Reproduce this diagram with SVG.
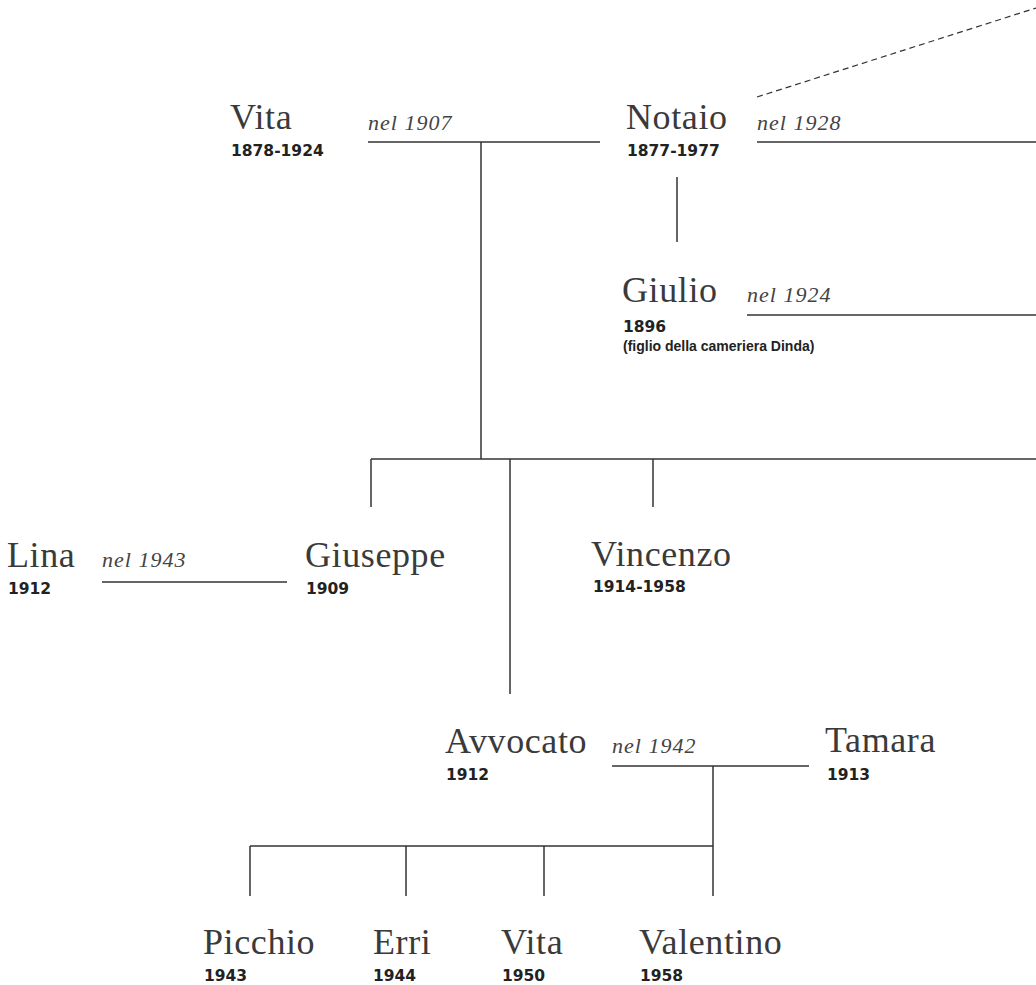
<svg xmlns="http://www.w3.org/2000/svg" width="1036" height="985" viewBox="0 0 1036 985">
<style>
.n{font-family:"Liberation Serif",serif;font-size:36px;letter-spacing:0.6px;fill:#3a3a3a}
.d{font-family:"DejaVu Sans",sans-serif;font-weight:bold;font-size:15.5px;fill:#222}
.f{font-family:"Liberation Sans",sans-serif;font-weight:bold;font-size:14px;fill:#222}
.m{font-family:"Liberation Serif",serif;font-style:italic;font-size:22px;letter-spacing:1px;fill:#444}
.c line{stroke:#333;stroke-width:1.5;fill:none}
.c .dash{stroke-dasharray:6 4;stroke-width:1.2}
</style>
<rect width="1036" height="985" fill="#fff"/>
<g class="c" id="connectors">
<line class="dash" x1="757" y1="97" x2="1036" y2="8"/>
<line x1="368" y1="142" x2="600" y2="142"/>
<line x1="481" y1="142" x2="481" y2="459"/>
<line x1="757" y1="142" x2="1036" y2="142"/>
<line x1="677" y1="177" x2="677" y2="242"/>
<line x1="747" y1="315" x2="1036" y2="315"/>
<line x1="371" y1="459" x2="1036" y2="459"/>
<line x1="371" y1="459" x2="371" y2="507"/>
<line x1="510" y1="459" x2="510" y2="694"/>
<line x1="653" y1="459" x2="653" y2="507"/>
<line x1="102" y1="582" x2="287" y2="582"/>
<line x1="612" y1="766" x2="809" y2="766"/>
<line x1="713" y1="766" x2="713" y2="896"/>
<line x1="250" y1="846" x2="713" y2="846"/>
<line x1="250" y1="846" x2="250" y2="896"/>
<line x1="406" y1="846" x2="406" y2="896"/>
<line x1="544" y1="846" x2="544" y2="896"/>
</g>
<g id="labels">
<text class="m" x="368" y="130">nel 1907</text>
<text class="m" x="757" y="130">nel 1928</text>
<text class="m" x="747" y="302">nel 1924</text>
<text class="m" x="102" y="567">nel 1943</text>
<text class="m" x="612" y="753">nel 1942</text>
</g>
<g id="vita"><text class="n" x="230" y="129">Vita</text><text class="d" x="231" y="156">1878-1924</text></g>
<g id="notaio"><text class="n" x="626" y="129">Notaio</text><text class="d" x="627" y="156">1877-1977</text></g>
<g id="giulio"><text class="n" x="622" y="302">Giulio</text><text class="d" x="623" y="332">1896</text><text class="f" x="623" y="351">(figlio della cameriera Dinda)</text></g>
<g id="lina"><text class="n" x="7" y="567">Lina</text><text class="d" x="8" y="594">1912</text></g>
<g id="giuseppe"><text class="n" x="305" y="567">Giuseppe</text><text class="d" x="306" y="594">1909</text></g>
<g id="vincenzo"><text class="n" x="591" y="566">Vincenzo</text><text class="d" x="593" y="592">1914-1958</text></g>
<g id="avvocato"><text class="n" x="445" y="753">Avvocato</text><text class="d" x="446" y="780">1912</text></g>
<g id="tamara"><text class="n" x="825" y="752">Tamara</text><text class="d" x="827" y="780">1913</text></g>
<g id="picchio"><text class="n" x="203" y="954">Picchio</text><text class="d" x="204" y="981">1943</text></g>
<g id="erri"><text class="n" x="373" y="954">Erri</text><text class="d" x="373" y="981">1944</text></g>
<g id="vita2"><text class="n" x="501" y="954">Vita</text><text class="d" x="502" y="981">1950</text></g>
<g id="valentino"><text class="n" x="639" y="954">Valentino</text><text class="d" x="640" y="981">1958</text></g>
</svg>
